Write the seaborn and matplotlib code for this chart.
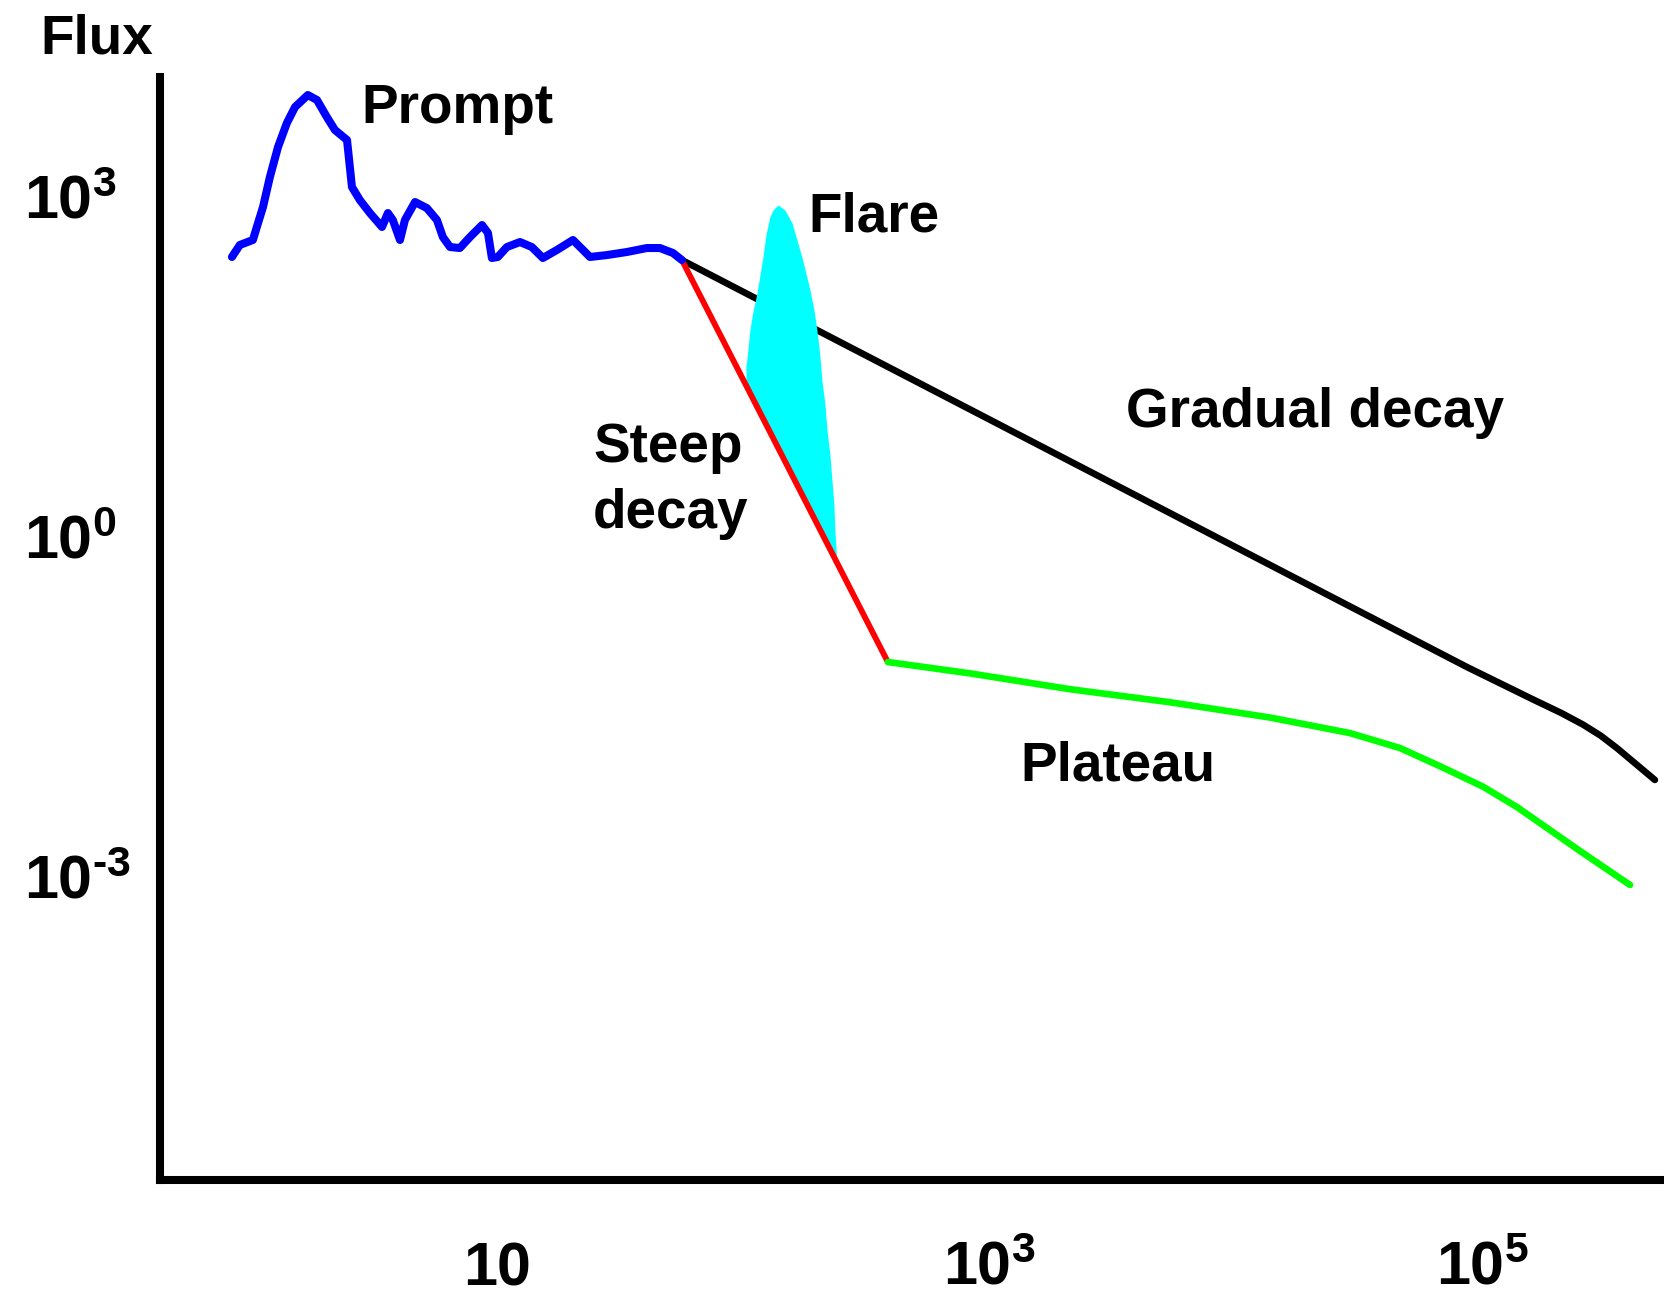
import numpy as np
import pandas as pd
import matplotlib
matplotlib.use("Agg")
import matplotlib.pyplot as plt
from matplotlib.ticker import FixedLocator, NullLocator
import seaborn as sns

# Canonical X-ray afterglow light curve (schematic), values given as log10(time [s]) and log10(flux)
prompt_log_t = [-0.075, -0.043, 0.010, 0.026, 0.051, 0.079, 0.112, 0.148, 0.181, 0.233,
                0.270, 0.310, 0.343, 0.392, 0.412, 0.444, 0.485, 0.534, 0.558, 0.578,
                0.607, 0.627, 0.668, 0.716, 0.757, 0.781, 0.810, 0.850, 0.891, 0.940,
                0.964, 0.980, 1.004, 1.041, 1.094, 1.142, 1.187, 1.244, 1.309, 1.358,
                1.378, 1.447, 1.528, 1.609, 1.662, 1.715, 1.751]
prompt_log_flux = [2.466, 2.572, 2.616, 2.731, 2.907, 3.172, 3.437, 3.649, 3.790, 3.896,
                   3.852, 3.702, 3.587, 3.499, 3.084, 2.969, 2.854, 2.731, 2.854, 2.792,
                   2.616, 2.792, 2.951, 2.898, 2.792, 2.642, 2.554, 2.545, 2.642, 2.748,
                   2.678, 2.457, 2.466, 2.554, 2.598, 2.554, 2.457, 2.528, 2.616, 2.510,
                   2.466, 2.483, 2.510, 2.545, 2.545, 2.501, 2.439]

steep_log_t = [1.751, 2.587]
steep_log_flux = [2.439, -1.110]

gradual_log_t = [1.751, 4.937, 5.205, 5.320, 5.408, 5.480, 5.546, 5.620, 5.700]
gradual_log_flux = [2.439, -1.154, -1.440, -1.560, -1.662, -1.760, -1.870, -2.005, -2.151]

plateau_log_t = [2.587, 2.920, 3.326, 3.732, 4.138, 4.462, 4.665, 4.828, 5.002,
                 5.140, 5.274, 5.408, 5.599]
plateau_log_flux = [-1.110, -1.210, -1.350, -1.465, -1.600, -1.737, -1.869, -2.030,
                    -2.210, -2.390, -2.593, -2.796, -3.078]

flare_log_t = [2.011, 2.019, 2.027, 2.039, 2.056, 2.068, 2.080, 2.092, 2.108, 2.121,
               2.141, 2.169, 2.198, 2.218, 2.238, 2.254, 2.271, 2.287, 2.299, 2.311,
               2.319, 2.332, 2.340, 2.352, 2.360, 2.368, 2.372, 2.380]
flare_log_flux = [1.495, 1.645, 1.821, 1.980, 2.148, 2.307, 2.466, 2.660, 2.819, 2.881,
                  2.925, 2.881, 2.766, 2.616, 2.466, 2.325, 2.174, 1.998, 1.821, 1.601,
                  1.380, 1.159, 0.938, 0.718, 0.497, 0.276, 0.056, -0.230]

x_tick_values = [1e1, 1e3, 1e5]
x_tick_labels = [r"$10$", r"$10^{3}$", r"$10^{5}$"]
y_tick_values = [1e3, 1e0, 1e-3]
y_tick_labels = [r"$10^{3}$", r"$10^{0}$", r"$10^{\text{-}3}$"]

x_limits = [10 ** -0.367, 10 ** 5.741]
y_limits = [10 ** -5.683, 10 ** 4.055]


def segment(log_t, log_flux):
    return pd.DataFrame({"time": np.power(10.0, log_t), "flux": np.power(10.0, log_flux)})


sns.set_theme(style="white")
plt.rcParams["font.family"] = ["Liberation Sans", "DejaVu Sans"]
plt.rcParams["mathtext.fontset"] = "custom"
plt.rcParams["mathtext.rm"] = "Liberation Sans:bold"
plt.rcParams["mathtext.bf"] = "Liberation Sans:bold"
plt.rcParams["mathtext.it"] = "Liberation Sans:bold"
plt.rcParams["mathtext.default"] = "bf"

W, H = 1665, 1300
fig = plt.figure(figsize=(W / 100, H / 100), dpi=100)
ax = fig.add_axes([160 / W, 1 - 1180 / H, 1 - 160 / W, (1180 - 77) / H])
ax.set_xscale("log")
ax.set_yscale("log")

line_kw = dict(estimator=None, sort=False, legend=False,
               solid_joinstyle="round", solid_capstyle="round")

gradual = segment(gradual_log_t, gradual_log_flux)
sns.lineplot(data=gradual, x="time", y="flux", ax=ax, color="black",
             linewidth=4.8, zorder=2, **line_kw)

# flare: filled between the steep-decay power law and the flare envelope
flare_t = np.power(10.0, flare_log_t)
flare_top = np.power(10.0, flare_log_flux)
flare_base = np.power(10.0, np.interp(flare_log_t, steep_log_t, steep_log_flux))
ax.fill_between(flare_t, flare_base, flare_top, color="#00FFFF", linewidth=0, zorder=3)

steep = segment(steep_log_t, steep_log_flux)
sns.lineplot(data=steep, x="time", y="flux", ax=ax, color="#FF0000",
             linewidth=4.2, zorder=4, **line_kw)

plateau = segment(plateau_log_t, plateau_log_flux)
sns.lineplot(data=plateau, x="time", y="flux", ax=ax, color="#00FF00",
             linewidth=4.8, zorder=4, **line_kw)

prompt = segment(prompt_log_t, prompt_log_flux)
sns.lineplot(data=prompt, x="time", y="flux", ax=ax, color="#0000FF",
             linewidth=5.8, zorder=5, **line_kw)

ax.set_xlim(x_limits)
ax.set_ylim(y_limits)
ax.set_xlabel("")
ax.set_ylabel("")

ax.xaxis.set_major_locator(FixedLocator(x_tick_values))
ax.yaxis.set_major_locator(FixedLocator(y_tick_values))
ax.xaxis.set_minor_locator(NullLocator())
ax.yaxis.set_minor_locator(NullLocator())
ax.set_xticklabels(x_tick_labels)
ax.set_yticklabels(y_tick_labels)
ax.tick_params(axis="both", which="both", length=0, labelsize=44, labelcolor="black")
ax.tick_params(axis="x", pad=75)
ax.tick_params(axis="y", pad=98)
for lab in ax.get_xticklabels():
    lab.set_verticalalignment("baseline")
for lab in ax.get_yticklabels():
    lab.set_horizontalalignment("left")

sns.despine(ax=ax)
for side in ("left", "bottom"):
    ax.spines[side].set_linewidth(5.8)
    ax.spines[side].set_color("black")
ax.set_facecolor("white")
fig.patch.set_facecolor("white")

text_kw = dict(fontsize=39.5, fontweight="bold", color="black", ha="left", va="baseline")
labels = [
    ("Flux", 40, 53),
    ("Prompt", 361, 123),
    ("Flare", 808, 232),
    ("Gradual decay", 1126, 427),
    ("Steep", 593, 462),
    ("decay", 593, 528),
    ("Plateau", 1020, 781),
]
for txt, px, py in labels:
    fig.text(px / W, 1 - py / H, txt, **text_kw)

fig.savefig("out.png", dpi=100, facecolor="white")
